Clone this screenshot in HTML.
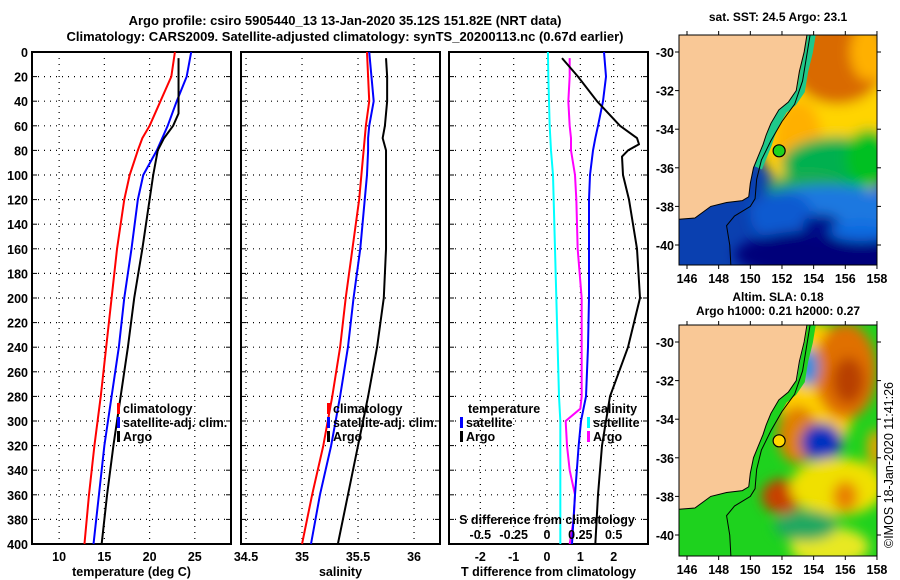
<!DOCTYPE html>
<html><head><meta charset="utf-8"><style>
html,body{margin:0;padding:0;background:#fff;}
svg{display:block;font-family:"Liberation Sans",Arial,sans-serif;font-weight:bold;}
</style></head><body>
<svg id="chart" width="900" height="580" viewBox="0 0 900 580" xmlns="http://www.w3.org/2000/svg">
<defs>
<filter id="blur" x="-20%" y="-20%" width="140%" height="140%"><feGaussianBlur stdDeviation="6"/></filter>
<clipPath id="clipTop"><rect x="679" y="35" width="198" height="230"/></clipPath>
<clipPath id="clipBot"><rect x="679" y="325" width="198" height="231"/></clipPath>
</defs>
<text x="345" y="25" font-size="13" text-anchor="middle">Argo profile: csiro 5905440_13 13-Jan-2020 35.12S 151.82E (NRT data)</text>
<text x="345" y="41" font-size="13" text-anchor="middle">Climatology: CARS2009. Satellite-adjusted climatology: synTS_20200113.nc (0.67d earlier)</text>
<g id="plots"></g>
<g id="maps"></g>
</svg>
<script>
// ---- data (depth in m) ----
const depths = [0,20,40,60,70,80,100,120,160,200,240,280,320,360,400];
const tempClim = [22.8,22.4,21.2,20.0,19.2,18.7,17.8,17.2,16.4,15.8,15.2,14.6,13.9,13.3,12.8];
const tempSat  = [24.6,24.1,23.0,22.0,21.4,20.8,19.3,18.7,18.0,17.2,16.6,15.8,15.0,14.4,13.8];
const argoDepths = [5,20,40,50,60,70,80,100,120,160,200,240,280,320,360,400];
const tempArgo = [23.2,23.2,23.2,23.2,22.6,21.6,20.9,20.4,20.0,19.2,18.3,17.6,16.8,16.0,15.3,14.7];
const salClim = [35.58,35.59,35.60,35.57,35.56,35.55,35.53,35.51,35.45,35.39,35.34,35.27,35.19,35.09,35.00];
const salSat  = [35.60,35.62,35.64,35.60,35.59,35.59,35.58,35.56,35.52,35.46,35.41,35.34,35.26,35.16,35.08];
const salArgo = [35.75,35.76,35.76,35.75,35.74,35.72,35.75,35.75,35.75,35.75,35.73,35.67,35.59,35.50,35.41,35.32];
const diffDepths = [0,20,40,60,70,80,100,120,160,200,240,280,300,320,360,400];
const dTsat  = [1.71,1.77,1.68,1.53,1.45,1.38,1.29,1.26,1.26,1.26,1.23,1.17,1.02,0.95,0.84,0.75];
const dSsat  = [0.007,0.01,0.015,0.02,0.025,0.03,0.045,0.05,0.06,0.07,0.08,0.09,0.1,0.1,0.1,0.1];
const argoDiffDepths = [5,20,40,60,70,75,80,85,100,120,160,200,240,280,320,360,400];
const dTargo = [0.45,0.93,1.50,2.19,2.70,2.76,2.43,2.25,2.28,2.46,2.70,2.79,2.43,1.89,1.65,1.53,1.45];
const sArgoDepths = [5,20,40,60,70,80,100,120,160,200,240,280,290,300,320,340,360,380,400];
const dSargo = [0.17,0.17,0.16,0.17,0.18,0.18,0.21,0.22,0.23,0.26,0.26,0.26,0.25,0.14,0.15,0.17,0.21,0.20,0.17];
const depthTicks = [0,20,40,60,80,100,120,140,160,180,200,220,240,260,280,300,320,340,360,380,400];
const tempTicks = [10,15,20,25];
const salTicks = [34.5,35,35.5,36];
const tdTicks = [-2,-1,0,1,2];
const sdTicks = [-0.5,-0.25,0,0.25,0.5];

const NS="http://www.w3.org/2000/svg";
function mk(tag,attrs,parent,text){const e=document.createElementNS(NS,tag);for(const k in attrs)e.setAttribute(k,attrs[k]);if(text!==undefined)e.textContent=text;parent.appendChild(e);return e;}
const plots=document.getElementById('plots');
const Y0=52,Y1=544;
const yS=d=>Y0+(d/400)*(Y1-Y0);
const panels=[
 {x0:32,x1:231,lo:7,hi:29,ticks:tempTicks,label:'temperature (deg C)',name:'temperature-panel'},
 {x0:241,x1:440,lo:34.455,hi:36.232,ticks:salTicks,label:'salinity',name:'salinity-panel'},
 {x0:449,x1:648,lo:-2.94,hi:3.03,ticks:tdTicks,label:'T difference from climatology',name:'difference-panel'}
];
panels.forEach((p,i)=>{
  p.x=v=>p.x0+(v-p.lo)/(p.hi-p.lo)*(p.x1-p.x0);
  const g=mk('g',{},plots);
  
  
  depthTicks.forEach(d=>{
    if(d>0&&d<400){const l=mk('line',{x1:p.x0,x2:p.x1,y1:yS(d),y2:yS(d),stroke:'#000','stroke-dasharray':'1,5','stroke-width':1.2},g);
      }
    mk('line',{x1:p.x0,x2:p.x0+5,y1:yS(d),y2:yS(d),stroke:'#000'},g);
    mk('line',{x1:p.x1,x2:p.x1-5,y1:yS(d),y2:yS(d),stroke:'#000'},g);
    if(i===0){const t=mk('text',{x:p.x0-4,y:yS(d)+5,'font-size':12.5,'text-anchor':'end'},g,String(d));
      }
  });
  p.ticks.forEach(v=>{
    const l=mk('line',{x1:p.x(v),x2:p.x(v),y1:Y0,y2:Y1,stroke:'#000','stroke-dasharray':'1,5','stroke-width':1.2},g);
    
    const t=mk('text',{x:p.x(v),y:561,'font-size':12.5,'text-anchor':'middle'},g,String(v));
    
  });
  const r=mk('rect',{x:p.x0,y:Y0,width:p.x1-p.x0,height:Y1-Y0,fill:'none',stroke:'#000','stroke-width':2},g);
  
  const t=mk('text',{x:(p.x0+p.x1)/2,y:576,'font-size':12.5,'text-anchor':'middle'},g,p.label);
  
});
function line(p,ds,vs,color,name,scale){
  const pts=ds.map((d,i)=>p.x(vs[i]*(scale||1))+','+yS(d)).join(' ');
  const e=mk('polyline',{points:pts,fill:'none',stroke:color,'stroke-width':2,'stroke-linejoin':'round'},plots);
  
  
}
line(panels[0],depths,tempClim,'#f00','temp-climatology-line');
line(panels[0],depths,tempSat,'#00f','temp-satellite-line');
line(panels[0],argoDepths,tempArgo,'#000','temp-argo-line');
line(panels[1],depths,salClim,'#f00','sal-climatology-line');
line(panels[1],depths,salSat,'#00f','sal-satellite-line');
line(panels[1],argoDepths,salArgo,'#000','sal-argo-line');
line(panels[2],diffDepths,dSsat,'#0ff','sdiff-satellite-line',4);
line(panels[2],sArgoDepths,dSargo,'#f0f','sdiff-argo-line',4);
line(panels[2],diffDepths,dTsat,'#00f','tdiff-satellite-line');
line(panels[2],argoDiffDepths,dTargo,'#000','tdiff-argo-line');
{const p=panels[2];
 const t=mk('text',{x:547,y:524,'font-size':12.5,'text-anchor':'middle'},plots,'S difference from climatology');
 
 sdTicks.forEach(v=>{const e=mk('text',{x:p.x(v*4),y:539,'font-size':12.5,'text-anchor':'middle'},plots,String(v));
   });
}
function legend(x,y,items,name){
  const g=mk('g',{},plots);
  
  
  items.forEach((it,i)=>{
    const yy=y+i*14;
    if(it[1])mk('rect',{x:x,y:yy-9,width:3,height:11,fill:it[1]},g);
    const t=mk('text',{x:x+(it[1]?6:0),y:yy+1,'font-size':12.5},g,it[0]);
    
  });
}
legend(117,412,[['climatology','#f00'],['satellite-adj. clim.','#00f'],['Argo','#000']],'temp-legend');
legend(327,412,[['climatology','#f00'],['satellite-adj. clim.','#00f'],['Argo','#000']],'sal-legend');
legend(468,412,[['temperature',null]],'tdiff-legend-title');
legend(460,426,[['satellite','#00f'],['Argo','#000']],'tdiff-legend');
legend(594,412,[['salinity',null]],'sdiff-legend-title');
legend(587,426,[['satellite','#0ff'],['Argo','#f0f']],'sdiff-legend');

// ---- maps ----
const maps=document.getElementById('maps');
const lonX=lon=>687+(lon-146)*15.83;
const coast=[[153.6,-29],[153.4,-30],[153.1,-31],[152.9,-32],[152.4,-32.6],[151.8,-33],[151.3,-33.7],[151,-34.3],[150.8,-34.8],[150.5,-35.4],[150.2,-36],[150,-36.8],[149.9,-37.5],[149.5,-37.7],[148.5,-37.8],[147.5,-38],[146.5,-38.6],[145,-38.7],[145,-29]];
const shelf=[[153.8,-29],[153.6,-30],[153.3,-31.5],[152.8,-32.7],[152,-33.6],[151.3,-34.6],[150.7,-35.6],[150.4,-36.6],[150.3,-37.6],[150,-38],[149,-38.5],[148.5,-39],[148.7,-40],[148.8,-41.5]];
function drawMap(top,bottom,latY,clip,blobs,base,name,title1,title2,dot,strip){
  const g=mk('g',{'clip-path':'url(#'+clip+')'},maps);
  
  
  mk('rect',{x:679,y:top,width:198,height:bottom-top,fill:base},g);
  const bg=mk('g',{filter:'url(#blur)'},g);
  blobs.forEach(b=>mk('ellipse',{cx:lonX(b[0]),cy:latY(b[1]),rx:b[2]*15.83,ry:b[3]*19.3,fill:b[4]},bg));
  mk('polyline',{points:coast.slice(0,11).map(c=>lonX(c[0]+0.3)+','+latY(c[1])).join(' '),fill:'none',stroke:strip,'stroke-width':8},g);
  mk('polygon',{points:coast.map(c=>lonX(c[0])+','+latY(c[1])).join(' '),fill:'#f9c896',stroke:'#000','stroke-width':1},g);
  mk('polyline',{points:shelf.map(c=>lonX(c[0])+','+latY(c[1])).join(' '),fill:'none',stroke:'#000','stroke-width':1},g);
  const d=mk('circle',{cx:lonX(151.82),cy:latY(-35.12),r:6,fill:dot,stroke:'#000','stroke-width':1.2},maps);
  
  mk('rect',{x:679,y:top,width:198,height:bottom-top,fill:'none',stroke:'#000','stroke-width':1},maps);
  [146,148,150,152,154,156,158].forEach(l=>{
    mk('line',{x1:lonX(l),x2:lonX(l),y1:top,y2:top-4,stroke:'#000'},maps);
    mk('line',{x1:lonX(l),x2:lonX(l),y1:bottom,y2:bottom+4,stroke:'#000'},maps);
    const t=mk('text',{x:lonX(l),y:bottom+18,'font-size':12.5,'text-anchor':'middle'},maps,String(l));
    
  });
  [-30,-32,-34,-36,-38,-40].forEach(l=>{
    mk('line',{x1:679,x2:675,y1:latY(l),y2:latY(l),stroke:'#000'},maps);
    mk('line',{x1:877,x2:881,y1:latY(l),y2:latY(l),stroke:'#000'},maps);
    const t=mk('text',{x:674,y:latY(l)+5,'font-size':12.5,'text-anchor':'end'},maps,String(l));
    
  });
  title1.forEach((s,i)=>{const t=mk('text',{x:778,y:title2+i*14,'font-size':12,'text-anchor':'middle'},maps,s);
    });
}
drawMap(35,265,lat=>52+(-30-lat)*19.3,'clipTop',[
 [155,-33,5,5,'#ffd400'],[155.5,-30.5,3,2.2,'#d96a00'],[157.5,-30,1.2,1.5,'#ffb000'],[153,-34.5,1.5,2,'#ffb000'],
 [155.5,-35.8,3.5,1.4,'#00b050'],[157.5,-35.5,1.5,1.5,'#00c020'],[153.5,-37,2.5,0.7,'#22aa55'],
 [155,-38.2,5,1.3,'#1a78e0'],[152,-38.5,2,1.3,'#0a5ad0'],[155,-40.5,6,1.3,'#00007a'],[154.5,-39,1.2,0.6,'#00108a'],[157,-39.3,2,0.5,'#0a6ae0']
],'#0a40b0','sst-map',['sat. SST: 24.5 Argo: 23.1'],21,'#1ed21e','#1ec88a');
drawMap(325,556,lat=>342+(-30-lat)*19.3,'clipBot',[
 [154.2,-32.5,2.5,3.5,'#ffd000'],[156,-31.5,2,2.5,'#e07000'],[156.2,-32,1,1.2,'#b84000'],[153.6,-31.3,0.7,1,'#1890e0'],
 [153,-34.8,1.3,1.5,'#e08000'],[154.5,-35.2,1.3,1,'#0030c0'],[152,-38,1.3,0.9,'#c84000'],[155.5,-37.5,3,1.5,'#f0e000'],
 [156,-38,0.8,0.8,'#e88000'],[155,-40.6,2.5,1,'#e8e820'],[153.5,-39.5,2,0.8,'#20a860'],[157.9,-35.5,0.5,1,'#f0a000']
],'#1ed21e','sla-map',['Altim. SLA: 0.18','Argo h1000: 0.21 h2000: 0.27'],301,'#ffd700','#1ed21e');
const c=mk('text',{x:0,y:0,'font-size':12.5,'font-weight':'normal',transform:'translate(893,465) rotate(-90)','text-anchor':'middle'},maps,'©IMOS 18-Jan-2020 11:41:26');


</script>
</body></html>
